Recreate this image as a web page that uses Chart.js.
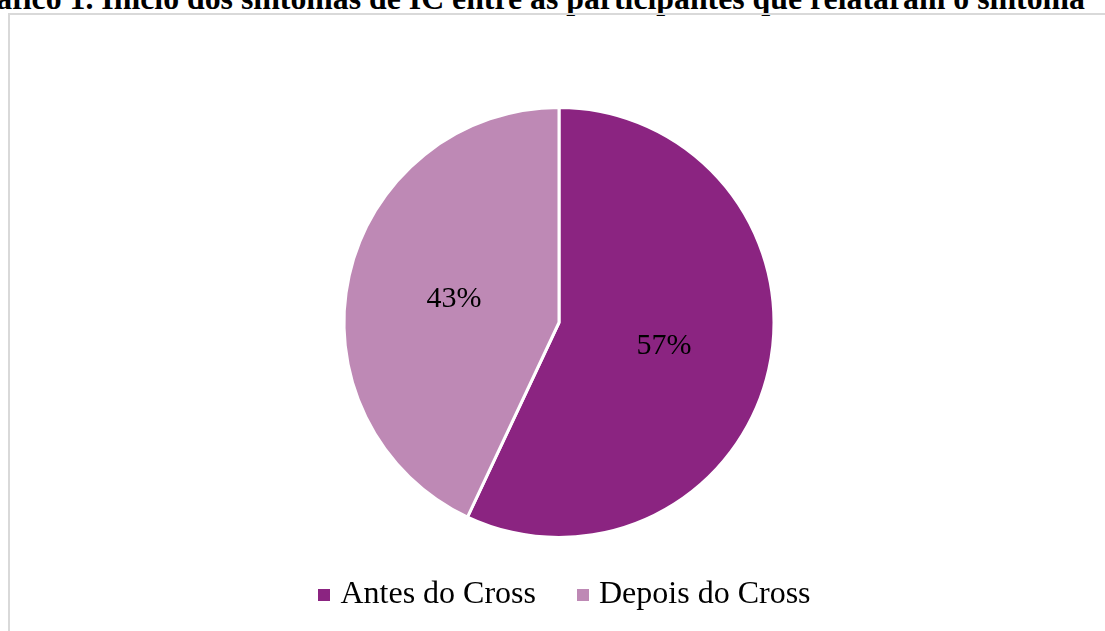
<!DOCTYPE html>
<html>
<head>
<meta charset="utf-8">
<script src="https://cdn.jsdelivr.net/npm/chart.js@4.4.0/dist/chart.umd.min.js"></script>
<style>
  html, body { margin:0; padding:0; background:#fff; width:1105px; height:631px; overflow:hidden; }
  #title { position:absolute; right:20px; top:-17px; line-height:1; white-space:nowrap; font-family:"Liberation Serif", serif; font-weight:bold; font-size:31.8px; color:#000; }
  #frame { position:absolute; left:8px; top:13px; width:1200px; height:700px; border:2px solid #d9d9d9; box-sizing:border-box; }
  #wrap { position:absolute; left:0; top:0; width:1105px; height:631px; }
</style>
</head>
<body>
<div id="title">Gráfico 1. Início dos sintomas de IC entre as participantes que relataram o sintoma</div>
<div id="frame"></div>
<div id="wrap"><canvas id="c"></canvas></div>
<script>
const categories = ["Antes do Cross", "Depois do Cross"];
const values = [57, 43];
const colors = ["#8B2481", "#BE89B5"];

function squareIcon(color) {
  const c = document.createElement('canvas');
  c.width = 12; c.height = 12;
  const g = c.getContext('2d');
  g.fillStyle = color;
  g.fillRect(0, 0, 12, 12);
  return c;
}
const icons = colors.map(squareIcon);

const labelPlugin = {
  id: 'pctLabels',
  afterDatasetsDraw(chart) {
    const ctx = chart.ctx;
    const meta = chart.getDatasetMeta(0);
    const total = values.reduce((a, b) => a + b, 0);
    ctx.save();
    ctx.font = '30px "Liberation Serif"';
    ctx.fillStyle = '#000';
    ctx.textAlign = 'center';
    ctx.textBaseline = 'middle';
    meta.data.forEach((arc, i) => {
      const p = arc.tooltipPosition();
      ctx.fillText(Math.round(values[i] / total * 100) + '%', p.x, p.y);
    });
    ctx.restore();
  }
};

const shiftLegend = {
  id: 'shiftLegend',
  afterLayout(chart) {
    if (chart.legend) { chart.legend.left += 8; chart.legend.right += 8; }
  }
};

new Chart(document.getElementById('c'), {
  type: 'pie',
  data: {
    labels: categories,
    datasets: [{
      data: values,
      backgroundColor: colors,
      borderColor: '#ffffff',
      borderWidth: 3,
      radius: 215
    }]
  },
  options: {
    responsive: true,
    maintainAspectRatio: false,
    animation: false,
    layout: { padding: { top: 112, bottom: 10, left: 13, right: 0 } },
    plugins: {
      legend: {
        position: 'bottom',
        labels: {
          usePointStyle: true,
          boxWidth: 1,
          padding: 46,
          color: '#000',
          font: { family: '"Liberation Serif"', size: 32 },
          generateLabels(chart) {
            return categories.map((t, i) => ({
              text: t,
              fillStyle: colors[i],
              strokeStyle: colors[i],
              lineWidth: 0,
              pointStyle: icons[i],
              hidden: false,
              index: i
            }));
          }
        }
      },
      tooltip: { enabled: false },
      title: { display: false }
    }
  },
  plugins: [labelPlugin, shiftLegend]
});
</script>
</body>
</html>
